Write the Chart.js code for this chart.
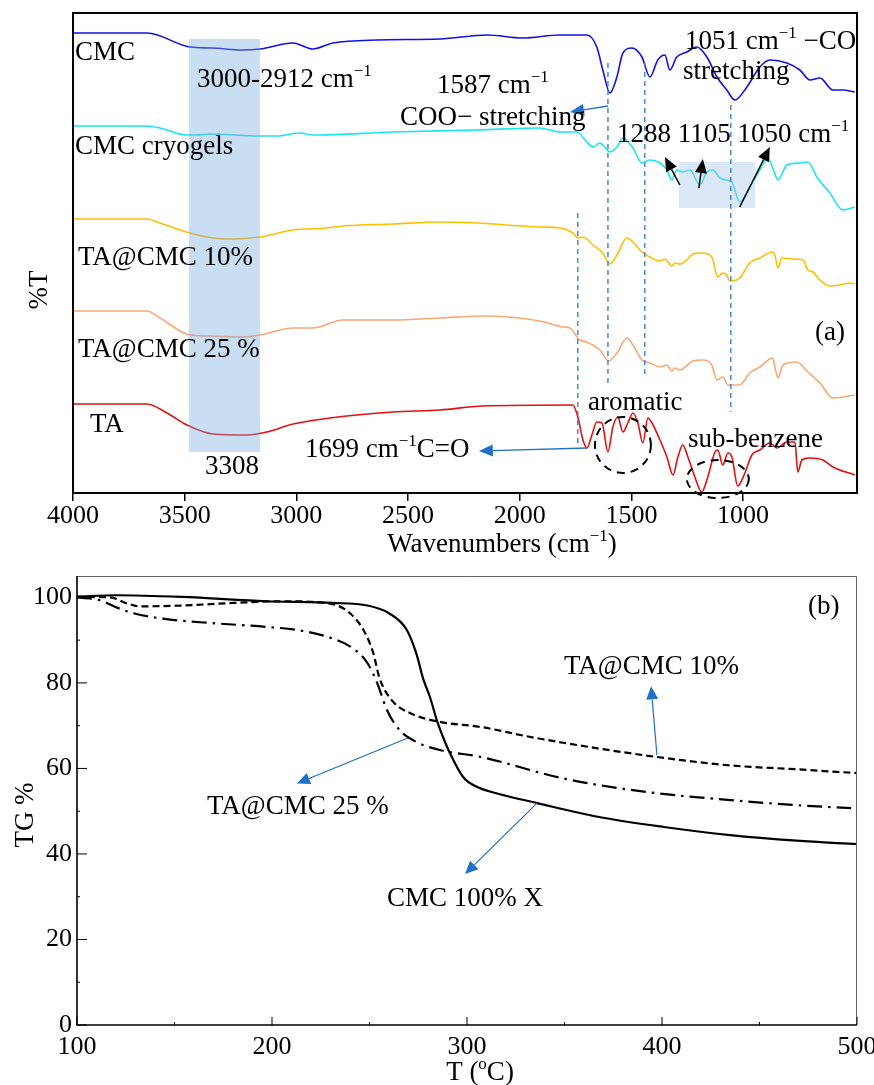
<!DOCTYPE html>
<html>
<head>
<meta charset="utf-8">
<script src="https://cdn.jsdelivr.net/npm/chart.js@4.4.1/dist/chart.umd.min.js"></script>
<style>
html,body{margin:0;padding:0;background:#fff;}
#c1{position:absolute;left:0;top:0;}
#c2{position:absolute;left:0;top:560px;}
</style>
</head>
<body>
<canvas id="c1" width="874" height="560"></canvas>
<canvas id="c2" width="874" height="525"></canvas>
<script>
// ---------- FTIR data (wavenumber, transmittance offset in arbitrary units) ----------
const wnCMC = [4000,3669,3476,3378,3239,3163,3015,2926,2836,2639,2357,2147,1986,1820,1699,1655,1628,1596,1565,1538,1498,1453,1417,1382,1350,1328,1297,1252,1207,1162,1117,1073,1037,983,925,880,804,746,701,656,598,553,500];
const tCMC  = [460,460,446,445,443,444,450,444,450,453,454,458,455,458,458,446,423,400,416,440,445,436,416,433,438,423,436,441,446,436,416,403,393,406,426,433,430,423,413,415,403,403,401];

const wnCRYO = [4000,3669,3611,3490,3445,3387,3163,3087,2984,2926,2568,2192,1910,1820,1744,1699,1672,1641,1628,1596,1565,1538,1493,1453,1417,1372,1341,1319,1297,1270,1238,1193,1162,1135,1104,1073,1050,1015,970,925,889,867,844,804,746,710,670,612,553,500];
const tCRYO  = [367,367,365,358,358,359,357,357,360,358,361,363,365,361,361,351,346,350,348,341,346,355,345,330,333,330,323,313,323,321,323,308,321,323,315,313,311,291,306,323,335,325,313,328,330,331,316,300,283,286];

const wnTA10 = [4000,3669,3611,3476,3373,3284,3163,3015,2863,2791,2568,2357,2192,1910,1820,1762,1740,1717,1672,1628,1596,1565,1520,1493,1453,1417,1372,1350,1319,1306,1283,1252,1225,1180,1140,1113,1091,1073,1059,1015,970,925,871,858,844,826,777,732,710,688,656,612,567,522,500];
const tTA10  = [274,274,270,260,255,254,256,263,265,267,269,271,270,266,265,260,255,256,248,240,229,238,255,251,241,236,232,234,227,230,229,233,239,240,236,216,220,218,212,215,230,235,241,238,225,235,234,233,223,221,213,207,208,210,209];

const wnTA25 = [4000,3669,3611,3476,3387,3239,3163,3015,2926,2791,2568,2357,2165,1910,1807,1775,1731,1699,1641,1601,1565,1520,1493,1453,1417,1372,1341,1319,1306,1283,1225,1180,1140,1117,1091,1068,1015,970,925,867,858,844,822,759,710,656,598,553,500];
const tTA25  = [182,182,175,158,157,156,158,165,165,173,173,175,177,172,166,165,153,151,143,132,140,155,148,133,130,126,128,122,125,123,132,133,128,113,116,108,108,120,126,135,126,115,128,131,121,110,95,96,98];

const wnTA = [4000,3669,3579,3490,3373,3221,3132,3015,2850,2568,2357,2165,1762,1740,1717,1699,1677,1655,1632,1605,1583,1561,1538,1516,1493,1471,1449,1426,1408,1372,1341,1314,1292,1270,1247,1216,1185,1158,1126,1113,1091,1068,1050,1024,992,961,925,880,849,804,768,755,737,701,643,598,500];
const tTA  = [89,89,80,68,59,58,61,69,75,81,83,87,88,76,53,45,58,71,70,41,66,76,61,70,80,70,50,75,70,53,36,18,36,48,36,16,1,16,41,43,28,40,36,7,20,38,43,50,45,51,51,21,33,35,33,26,18];

const ftirNames  = ["CMC","CMC cryogels","TA@CMC 10%","TA@CMC 25 %","TA"];
const ftirTicks  = [4000,3500,3000,2500,2000,1500,1000];

// ---------- TG data (temperature °C, mass %) ----------
const tgT_CMC  = [100,120,154,197,231,249,260,269,274,277.5,281,284.5,288,291,298,305,315,336,367,401,435,469,500];
const tg_CMC   = [100.2,100.5,100.1,99.1,98.7,98.1,96.3,92.5,86.9,81,76.7,71.3,67,63.8,58,55.7,54.2,51.9,48.7,46.3,44.4,43.1,42.3];
const tgT_TA10 = [100,117,125.6,132,154,180,206,231,240,247,252,255,261.5,271,286,307,332,367,397,435,469,500];
const tg_TA10  = [100.1,100,98.6,97.9,98.1,98.7,99.1,98.4,96.3,92.3,86.9,81.3,75.9,72.9,70.9,69.7,67.4,64.7,62.7,60.7,59.8,58.9];
const tgT_TA25 = [100,112,120,129,146,172,197,214,231,241.5,249,254,259,265.6,274,286,307,349,392,435,469,497];
const tg_TA25  = [100,99.3,97.7,96.3,94.9,93.9,93.1,92.3,90.4,88.1,84.6,79.9,73.6,68.9,66.2,64.3,62.7,57.7,54.5,52.6,51.4,50.7];
const tgXTicks = [100,200,300,400,500];
const tgYTicks = [0,20,40,60,80,100];

// ---------- helpers ----------
const SERIF = '"Liberation Serif","Times New Roman",serif';
function xy(xs, ys){ return xs.map((x,i)=>({x:x, y:ys[i]})); }
function rich(ctx, x, y, parts, size, align){
  ctx.save();
  ctx.textBaseline = 'middle';
  ctx.fillStyle = '#000';
  let w = 0;
  parts.forEach(p=>{
    const sup = p[0]==='^';
    ctx.font = (sup? Math.round(size*0.62):size)+'px '+SERIF;
    w += ctx.measureText(sup?p.slice(1):p).width;
  });
  let cx = align==='center' ? x - w/2 : x;
  parts.forEach(p=>{
    const sup = p[0]==='^';
    const s = sup?p.slice(1):p;
    ctx.font = (sup? Math.round(size*0.62):size)+'px '+SERIF;
    ctx.textAlign = 'left';
    ctx.fillText(s, cx, sup ? y - size*0.33 : y);
    cx += ctx.measureText(s).width;
  });
  ctx.restore();
}
function arrow(ctx, x1,y1,x2,y2,color,lw,hl,hw){
  ctx.save();
  const a = Math.atan2(y2-y1, x2-x1);
  const bx = x2 - hl*Math.cos(a), by = y2 - hl*Math.sin(a);
  ctx.strokeStyle = color; ctx.fillStyle = color; ctx.lineWidth = lw;
  ctx.beginPath(); ctx.moveTo(x1,y1); ctx.lineTo(bx,by); ctx.stroke();
  ctx.beginPath();
  ctx.moveTo(x2,y2);
  ctx.lineTo(bx + hw/2*Math.sin(a), by - hw/2*Math.cos(a));
  ctx.lineTo(bx - hw/2*Math.sin(a), by + hw/2*Math.cos(a));
  ctx.closePath(); ctx.fill();
  ctx.restore();
}
function fixX(h){ return function(s){ s.height = h; s.paddingLeft=0; s.paddingRight=0; }; }
function fixY(w){ return function(s){ s.width = w; s.paddingTop=0; s.paddingBottom=0; }; }
const plain = v => String(v);

// ---------- FTIR chart ----------
const ftirColors = ['#1010E6','#19E6EE','#FFBF00','#F9A878','#E41010'];
const ftirSets = [[wnCMC,tCMC],[wnCRYO,tCRYO],[wnTA10,tTA10],[wnTA25,tTA25],[wnTA,tTA]];

const ftirDecor = {
  id:'ftirDecor',
  afterDatasetsDraw(chart){
    const ctx = chart.ctx, xs = chart.scales.x, ys = chart.scales.y, ca = chart.chartArea;
    const X = v=>xs.getPixelForValue(v), Y = v=>ys.getPixelForValue(v);
    ctx.save();
    ctx.fillStyle = 'rgba(120,170,225,0.40)';
    ctx.fillRect(X(3481), Y(454), X(3163)-X(3481), Y(41)-Y(454));
    ctx.fillStyle = 'rgba(165,198,236,0.40)';
    ctx.fillRect(X(1287), Y(331), X(947)-X(1287), Y(285)-Y(331));
    ctx.strokeStyle = '#3A80D2'; ctx.lineWidth = 1.4; ctx.setLineDash([5,4]);
    [[1740,280,46],[1605,430,108],[1440,430,118],[1055,388,81]].forEach(g=>{
      ctx.beginPath(); ctx.moveTo(X(g[0]),Y(g[1])); ctx.lineTo(X(g[0]),Y(g[2])); ctx.stroke();
    });
    ctx.strokeStyle = '#000'; ctx.lineWidth = 2; ctx.setLineDash([8,6]);
    ctx.beginPath(); ctx.ellipse(X(1538),Y(48),28,28,0,0,Math.PI*2); ctx.stroke();
    ctx.beginPath(); ctx.ellipse(X(1113),Y(14),31,19,0,0,Math.PI*2); ctx.stroke();
    ctx.setLineDash([]);
    arrow(ctx, X(1605),Y(387), X(1775),Y(381), '#1F70C8',1.3,14,12);
    arrow(ctx, X(1699),Y(45), X(2183),Y(42), '#1F70C8',1.3,14,12);
    arrow(ctx, X(1283),Y(308), X(1350),Y(336), '#000',1.5,14,12);
    arrow(ctx, X(1198),Y(305), X(1180),Y(334), '#000',1.5,14,12);
    arrow(ctx, X(1015),Y(286), X(880),Y(346), '#000',1.5,14,12);
    ctx.strokeStyle = '#000'; ctx.lineWidth = 2;
    ctx.strokeRect(ca.left, ca.top, ca.right-ca.left, ca.bottom-ca.top);
    ctx.restore();
    const S = 27;
    rich(ctx, 75, 53, ['CMC'], S);
    rich(ctx, 197, 80, ['3000-2912 cm','^\u22121'], S);
    rich(ctx, 437, 86, ['1587 cm','^\u22121'], S);
    rich(ctx, 400, 118, ['COO\u2212 stretching'], S);
    rich(ctx, 685, 42, ['1051 cm','^\u22121',' \u2212CO'], S);
    rich(ctx, 683, 72, ['stretching'], S);
    rich(ctx, 75, 147, ['CMC cryogels'], S);
    rich(ctx, 617, 135, ['1288 1105 1050 cm','^\u22121'], S);
    rich(ctx, 78, 258, ['TA@CMC 10%'], S);
    rich(ctx, 78, 350, ['TA@CMC 25 %'], S);
    rich(ctx, 90, 425, ['TA'], S);
    rich(ctx, 205, 467, ['3308'], S);
    rich(ctx, 305, 450, ['1699 cm','^\u22121','C=O'], S);
    rich(ctx, 815, 333, ['(a)'], S);
    rich(ctx, 588, 403, ['aromatic'], S);
    rich(ctx, 688, 440, ['sub-benzene'], S);
    rich(ctx, 502, 545, ['Wavenumbers (cm','^\u22121',')'], S, 'center');
    ctx.save();
    ctx.translate(40, 290); ctx.rotate(-Math.PI/2);
    rich(ctx, 0, 0, ['%T'], S, 'center');
    ctx.restore();
  }
};

new Chart(document.getElementById('c1'), {
  type:'line',
  data:{ datasets: ftirSets.map((s,i)=>({
    label: ftirNames[i], data: xy(s[0], s[1]),
    borderColor: ftirColors[i], borderWidth: 1.6, pointRadius: 0,
    tension: 0.35, cubicInterpolationMode:'monotone', fill:false
  }))},
  options:{
    responsive:false, animation:false, devicePixelRatio:1,
    layout:{ padding:{ top:13, right:17, left:0, bottom:0 } },
    plugins:{ legend:{display:false}, tooltip:{enabled:false} },
    scales:{
      x:{ type:'linear', reverse:true, min:490, max:4000,
          afterBuildTicks:(s)=>{ s.ticks = ftirTicks.map(v=>({value:v})); },
          afterFit: fixX(67),
          border:{display:false},
          grid:{ display:true, drawOnChartArea:false, drawTicks:true, tickLength:8, color:'#000', lineWidth:1.5 },
          ticks:{ color:'#000', padding:0, maxRotation:0, autoSkip:false, callback: plain, font:{family:SERIF, size:26} } },
      y:{ type:'linear', min:0, max:480,
          afterFit: fixY(73),
          border:{display:false}, grid:{display:false}, ticks:{display:false} }
    }
  },
  plugins:[ftirDecor]
});

// ---------- TG chart ----------
const tgDecor = {
  id:'tgDecor',
  afterDatasetsDraw(chart){
    const ctx = chart.ctx, xs = chart.scales.x, ys = chart.scales.y, ca = chart.chartArea;
    const X = v=>xs.getPixelForValue(v), Y = v=>ys.getPixelForValue(v);
    ctx.save();
    ctx.strokeStyle = '#666'; ctx.lineWidth = 1;
    ctx.beginPath(); ctx.moveTo(ca.left, ca.top+0.5); ctx.lineTo(ca.right-0.5, ca.top+0.5); ctx.lineTo(ca.right-0.5, ca.bottom); ctx.stroke();
    ctx.strokeStyle = '#000'; ctx.lineWidth = 1.6;
    ctx.beginPath(); ctx.moveTo(ca.left, ca.top); ctx.lineTo(ca.left, ca.bottom); ctx.lineTo(ca.right, ca.bottom); ctx.stroke();
    ctx.lineWidth = 1;
    for(let v=0; v<=100; v+=10){
      const L = v%20===0 ? 10 : 3;
      ctx.beginPath(); ctx.moveTo(ca.left, Y(v)); ctx.lineTo(ca.left+L, Y(v)); ctx.stroke();
    }
    for(let t=100; t<=500; t+=50){
      const L = t%100===0 ? 8 : 3;
      ctx.beginPath(); ctx.moveTo(X(t), ca.bottom); ctx.lineTo(X(t), ca.bottom-L); ctx.stroke();
    }
    arrow(ctx, X(397.4),Y(63.1), X(394.4),Y(79.2), '#1F70C8',1.2,13,12);
    arrow(ctx, X(269.7),Y(67.1), X(212.8),Y(56.5), '#1F70C8',1.2,13,12);
    arrow(ctx, X(335.9),Y(51.9), X(299),Y(35.3), '#1F70C8',1.2,13,12);
    ctx.restore();
    const S = 27, o = 560;
    rich(ctx, 808, 607-o, ['(b)'], S);
    rich(ctx, 564, 667-o, ['TA@CMC 10%'], S);
    rich(ctx, 207, 807-o, ['TA@CMC 25 %'], S);
    rich(ctx, 387, 899-o, ['CMC 100% X'], S);
    rich(ctx, 480, 1073-o, ['T (','^o','C)'], S, 'center');
    ctx.save();
    ctx.translate(26, 815-o); ctx.rotate(-Math.PI/2);
    rich(ctx, 0, 0, ['TG %'], S, 'center');
    ctx.restore();
  }
};

new Chart(document.getElementById('c2'), {
  type:'line',
  data:{ datasets:[
    { label:'CMC 100% X', data: xy(tgT_CMC, tg_CMC), borderColor:'#000', borderWidth:2.2, pointRadius:0, tension:0.4, cubicInterpolationMode:'monotone' },
    { label:'TA@CMC 10%', data: xy(tgT_TA10, tg_TA10), borderColor:'#000', borderWidth:2.2, borderDash:[7,4], pointRadius:0, tension:0.4, cubicInterpolationMode:'monotone' },
    { label:'TA@CMC 25 %', data: xy(tgT_TA25, tg_TA25), borderColor:'#000', borderWidth:2.2, borderDash:[15,6,2.5,6], pointRadius:0, tension:0.4, cubicInterpolationMode:'monotone' }
  ]},
  options:{
    responsive:false, animation:false, devicePixelRatio:1,
    layout:{ padding:{ top:16, right:17, left:0, bottom:0 } },
    plugins:{ legend:{display:false}, tooltip:{enabled:false} },
    scales:{
      x:{ type:'linear', min:100, max:500,
          afterBuildTicks:(s)=>{ s.ticks = tgXTicks.map(v=>({value:v})); },
          afterFit: fixX(60),
          border:{display:false}, grid:{display:false, drawTicks:false},
          ticks:{ color:'#000', padding:7, maxRotation:0, autoSkip:false, callback: plain, font:{family:SERIF, size:26} } },
      y:{ type:'linear', min:0, max:105,
          afterBuildTicks:(s)=>{ s.ticks = tgYTicks.map(v=>({value:v})); },
          afterFit: fixY(77),
          border:{display:false}, grid:{display:false, drawTicks:false},
          ticks:{ color:'#000', padding:5, autoSkip:false, callback: plain, font:{family:SERIF, size:26} } }
    }
  },
  plugins:[tgDecor]
});
</script>
</body>
</html>
